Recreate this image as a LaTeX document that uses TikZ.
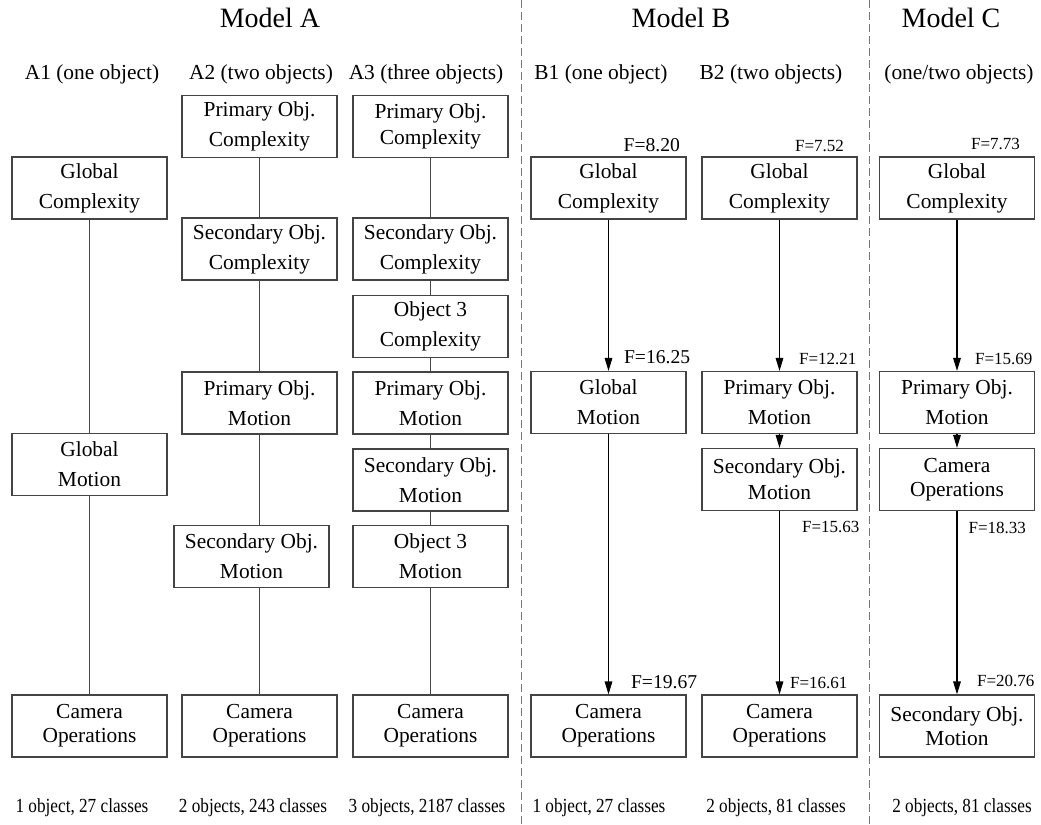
\documentclass[tikz,border=0pt]{standalone}
\usepackage{fontspec}
\setmainfont{Liberation Serif}
\newfontfamily\narrowfont[FakeStretch=0.86]{Liberation Serif}
\usepackage{tikz}
\usetikzlibrary{arrows.meta}
\definecolor{boxgray}{HTML}{444444}
\definecolor{sepgray}{HTML}{777777}

\begin{document}
\begin{tikzpicture}[x=0.5pt,y=-0.5pt,
  box/.style={draw=boxgray,line width=0.6pt,minimum width=77.5pt,minimum height=31pt,
    inner sep=0pt,align=center,font=\fontsize{10.7}{15}\selectfont},
  link/.style={boxgray,line width=0.6pt},
  flow/.style={black,line width=0.6pt,-{Triangle[length=6.5pt,width=3.8pt]}},
  title/.style={anchor=base,font=\fontsize{14}{16}\selectfont},
  head/.style={anchor=base,font=\fontsize{10.7}{13}\selectfont},
  fbig/.style={font=\fontsize{9.8}{11}\selectfont},
  fsmall/.style={font=\fontsize{8.5}{10}\selectfont},
  foot/.style={anchor=base,font=\narrowfont\fontsize{10}{12}\selectfont}]
  \useasboundingbox (0,0) rectangle (1041,825);

  % separators
  \draw[sepgray,line width=0.5pt,dash pattern=on 4pt off 2pt] (521,0) -- (521,825);
  \draw[sepgray,line width=0.5pt,dash pattern=on 4pt off 2pt] (869,0) -- (869,825);

  % titles
  \node[title] (tA) at (270,27) {Model A};
  \node[title] (tB) at (681,27) {Model B};
  \node[title] (tC) at (951,27) {Model C};
  \node[head] (hA1) at (92,79) {A1 (one object)};
  \node[head] (hA2) at (261,79) {A2 (two objects)};
  \node[head] (hA3) at (426,79) {A3 (three objects)};
  \node[head] (hB1) at (601,79) {B1 (one object)};
  \node[head] (hB2) at (771,79) {B2 (two objects)};
  \node[head] (hC) at (959,79) {(one/two objects)};

  % model A
  \node[box] (a1gc) at (89.5,188) {Global\\Complexity};
  \node[box] (a1gm) at (89.5,464.5) {Global\\Motion};
  \node[box] (a1cam) at (89.5,726) {Camera\\[-3pt]Operations};
  \draw[link] (a1gc) -- (a1gm);
  \draw[link] (a1gm) -- (a1cam);

  \node[box] (a2pc) at (259.5,126.5) {Primary Obj.\\Complexity};
  \node[box] (a2sc) at (259.5,249) {Secondary Obj.\\Complexity};
  \node[box] (a2pm) at (259.5,403) {Primary Obj.\\Motion};
  \node[box] (a2sm) at (251.5,556.5) {Secondary Obj.\\Motion};
  \node[box] (a2cam) at (259.5,726) {Camera\\[-3pt]Operations};
  \draw[link] (a2pc) -- (a2sc);
  \draw[link] (a2sc) -- (a2pm);
  \draw[link] (a2pm.south) -- (a2pm.south |- a2sm.north);
  \draw[link] (a2cam.north |- a2sm.south) -- (a2cam.north);

  \node[box] (a3pc) at (430.5,126.5) {Primary Obj.\\[-2pt]Complexity};
  \node[box] (a3sc) at (430.5,249) {Secondary Obj.\\Complexity};
  \node[box] (a3oc) at (430.5,326.5) {Object 3\\Complexity};
  \node[box] (a3pm) at (430.5,403) {Primary Obj.\\Motion};
  \node[box] (a3sm) at (430.5,480) {Secondary Obj.\\Motion};
  \node[box] (a3om) at (430.5,556.5) {Object 3\\Motion};
  \node[box] (a3cam) at (430.5,726) {Camera\\[-3pt]Operations};
  \foreach \u/\v in {a3pc/a3sc,a3sc/a3oc,a3oc/a3pm,a3pm/a3sm,a3sm/a3om,a3om/a3cam}
    \draw[link] (\u) -- (\v);

  % model B
  \node[box] (b1gc) at (608.5,188) {Global\\Complexity};
  \node[box] (b1gm) at (608.5,402.5) {Global\\Motion};
  \node[box] (b1cam) at (608.5,726) {Camera\\[-3pt]Operations};
  \draw[flow] (b1gc) -- (b1gm);
  \draw[flow] (b1gm) -- (b1cam);
  \node[fbig,anchor=base east] (fb1a) at (687,151) {F=8.20};
  \node[fbig,anchor=base west] (fb1b) at (617,363) {F=16.25};
  \node[fbig,anchor=base west] (fb1c) at (624,688) {F=19.67};

  \node[box] (b2gc) at (779.5,188) {Global\\Complexity};
  \node[box] (b2pm) at (779.5,402.5) {Primary Obj.\\Motion};
  \node[box] (b2sm) at (779.5,479.5) {Secondary Obj.\\[-2pt]Motion};
  \node[box] (b2cam) at (779.5,726) {Camera\\[-3pt]Operations};
  \draw[flow] (b2gc) -- (b2pm);
  \draw[flow] (b2pm) -- (b2sm);
  \draw[flow] (b2sm) -- (b2cam);
  \node[fsmall,anchor=base east] (fb2a) at (851,151) {F=7.52};
  \node[fsmall,anchor=base west] (fb2b) at (792,364) {F=12.21};
  \node[fsmall,anchor=base west] (fb2c) at (795,532) {F=15.63};
  \node[fsmall,anchor=base west] (fb2d) at (783,688) {F=16.61};

  % model C
  \node[box] (cgc) at (957,188) {Global\\Complexity};
  \node[box] (cpm) at (957,402.5) {Primary Obj.\\Motion};
  \node[box] (ccam) at (957,479.5) {Camera\\[-3pt]Operations};
  \node[box] (csm) at (957,726) {Secondary Obj.\\[-3pt]Motion};
  \draw[flow] (cgc) -- (cpm);
  \draw[flow] (cpm) -- (ccam);
  \draw[flow] (ccam) -- (csm);
  \node[fsmall,anchor=base east] (fca) at (1027,149) {F=7.73};
  \node[fsmall,anchor=base west] (fcb) at (968,364) {F=15.69};
  \node[fsmall,anchor=base east] (fcc) at (1033,533) {F=18.33};
  \node[fsmall,anchor=base west] (fcd) at (970,686) {F=20.76};

  % class counts
  \node[foot] (nA1) at (82,812) {1 object, 27 classes};
  \node[foot] (nA2) at (253,812) {2 objects, 243 classes};
  \node[foot] (nA3) at (427,812) {3 objects, 2187 classes};
  \node[foot] (nB1) at (599,812) {1 object, 27 classes};
  \node[foot] (nB2) at (776,812) {2 objects, 81 classes};
  \node[foot] (nC) at (962,812) {2 objects, 81 classes};
\end{tikzpicture}
\end{document}
